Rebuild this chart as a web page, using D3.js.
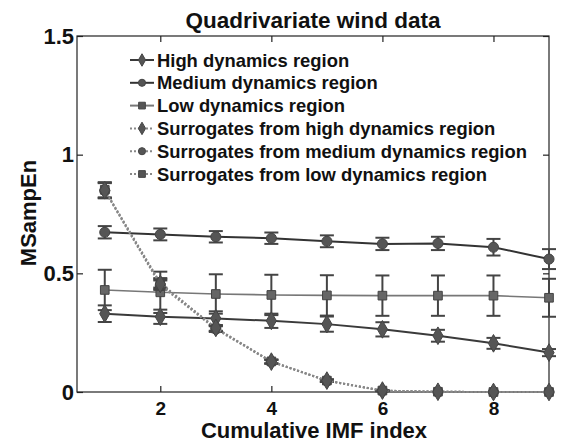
<!DOCTYPE html>
<html>
<head>
<meta charset="UTF-8">
<script src="https://d3js.org/d3.v7.min.js"></script>
<style>
  body { margin: 0; background: #fff; font-family: "Liberation Sans", Arial, sans-serif; }
  text { font-weight: bold; fill: #111; }
</style>
</head>
<body>
<div id="chart"></div>
<script>
// ---- data ----
const imf = [1, 2, 3, 4, 5, 6, 7, 8, 9];

const highMean = [0.33, 0.317, 0.31, 0.30, 0.286, 0.264, 0.237, 0.205, 0.166];
const highErr  = [0.035, 0.03, 0.03, 0.03, 0.032, 0.03, 0.025, 0.023, 0.015];

const medMean = [0.673, 0.664, 0.654, 0.648, 0.635, 0.624, 0.626, 0.61, 0.56];
const medErr  = [0.026, 0.025, 0.024, 0.024, 0.025, 0.026, 0.028, 0.035, 0.042];

const lowMean = [0.43, 0.42, 0.413, 0.409, 0.407, 0.406, 0.406, 0.406, 0.397];
const lowErr  = [0.085, 0.087, 0.083, 0.085, 0.085, 0.085, 0.085, 0.085, 0.08];

const surHighMean = [0.85, 0.455, 0.27, 0.128, 0.048, 0.006, 0.001, 0, 0];
const surMedMean  = [0.848, 0.45, 0.265, 0.127, 0.047, 0.005, 0.001, 0, 0];
const surLowMean  = [0.852, 0.46, 0.268, 0.129, 0.048, 0.006, 0.001, 0, 0];
const surErr      = [0.032, 0.02, 0.012, 0.008, 0.005, 0.002, 0, 0, 0];

const yTicks = [0, 0.5, 1, 1.5];
const xTicks = [2, 4, 6, 8];

const legendNames = [
  "High dynamics region",
  "Medium dynamics region",
  "Low dynamics region",
  "Surrogates from high dynamics region",
  "Surrogates from medium dynamics region",
  "Surrogates from low dynamics region"
];

const series = [
  {mean: highMean, err: highErr, shape: "diamond", line: "#3a3a3a", dash: null},
  {mean: medMean, err: medErr, shape: "circle", line: "#333", dash: null},
  {mean: lowMean, err: lowErr, shape: "square", line: "#777", dash: null},
  {mean: surHighMean, err: surErr, shape: "diamond", line: "#888", dash: "2,2"},
  {mean: surMedMean, err: surErr, shape: "circle", line: "#888", dash: "2,2"},
  {mean: surLowMean, err: surErr, shape: "square", line: "#888", dash: "2,2"}
];

// ---- layout ----
const W = 571, H = 443;
const margin = {top: 36, right: 22, bottom: 51, left: 77};
const width = W - margin.left - margin.right,
      height = H - margin.top - margin.bottom;

const svg = d3.select("#chart").append("svg")
  .attr("width", W).attr("height", H);

const g = svg.append("g")
  .attr("transform", `translate(${margin.left},${margin.top})`);

const x = d3.scaleLinear().domain([0.5, 9]).range([0, width]);
const y = d3.scaleLinear().domain([0, 1.5]).range([height, 0]);

// frame
g.append("rect").attr("width", width).attr("height", height)
  .attr("fill", "none").attr("stroke", "#222").attr("stroke-width", 1.2);

// axes (ticks inward, MATLAB style)
const xAxis = g.append("g").attr("transform", `translate(0,${height})`)
  .call(d3.axisBottom(x).tickValues(xTicks).tickSize(-6).tickPadding(10).tickFormat(d3.format("d")));
const xTop = g.append("g")
  .call(d3.axisTop(x).tickValues(xTicks).tickSize(-6).tickFormat(""));
const yAxis = g.append("g")
  .call(d3.axisLeft(y).tickValues(yTicks).tickSize(-6).tickPadding(3).tickFormat(d => d === 0 ? "0" : String(d)));
const yRight = g.append("g").attr("transform", `translate(${width},0)`)
  .call(d3.axisRight(y).tickValues(yTicks).tickSize(-6).tickFormat(""));

[xAxis, xTop, yAxis, yRight].forEach(a => {
  a.select(".domain").remove();
  a.selectAll(".tick line").attr("stroke", "#222").attr("stroke-width", 1.2);
});
xAxis.selectAll("text").attr("font-size", 19).attr("font-family", "Liberation Sans, Arial").attr("fill", "#111");
yAxis.selectAll("text").attr("font-size", 22).attr("font-family", "Liberation Sans, Arial").attr("fill", "#111");

// symbol helper
function sym(shape) {
  if (shape === "circle") return d3.symbol().type(d3.symbolCircle).size(80);
  if (shape === "square") return d3.symbol().type(d3.symbolSquare).size(75);
  return d3.symbol().type(d3.symbolDiamond).size(90);
}

const capW = 7;
const drawOrder = [2, 0, 1, 5, 4, 3];

drawOrder.forEach(i => {
  const s = series[i];
  const pts = imf.map((d, k) => ({x: d, m: s.mean[k], e: s.err[k]}));
  const sg = g.append("g");

  // error bars
  const eb = sg.selectAll(".eb").data(pts.filter(p => p.e > 0)).enter().append("g")
    .attr("stroke", "#444").attr("stroke-width", 2);
  eb.append("line")
    .attr("x1", p => x(p.x)).attr("x2", p => x(p.x))
    .attr("y1", p => y(p.m + p.e)).attr("y2", p => y(p.m - p.e));
  eb.append("line")
    .attr("x1", p => x(p.x) - capW).attr("x2", p => x(p.x) + capW)
    .attr("y1", p => y(p.m + p.e)).attr("y2", p => y(p.m + p.e));
  eb.append("line")
    .attr("x1", p => x(p.x) - capW).attr("x2", p => x(p.x) + capW)
    .attr("y1", p => y(p.m - p.e)).attr("y2", p => y(p.m - p.e));

  // line
  sg.append("path").datum(pts)
    .attr("fill", "none").attr("stroke", s.line)
    .attr("stroke-width", i === 2 ? 1.6 : 2)
    .attr("stroke-dasharray", s.dash)
    .attr("d", d3.line().x(p => x(p.x)).y(p => y(p.m)));

  // markers
  sg.selectAll(".mk").data(pts).enter().append("path")
    .attr("transform", p => `translate(${x(p.x)},${y(p.m)})`)
    .attr("d", sym(s.shape)())
    .attr("fill", i === 2 || i === 5 ? "#666" : "#555")
    .attr("stroke", "#444").attr("stroke-width", 1);
});

// legend
const leg = svg.append("g").attr("transform", "translate(130,60)");
legendNames.forEach((name, i) => {
  const s = series[i];
  const row = leg.append("g").attr("transform", `translate(0,${i * 22.8})`);
  row.append("line").attr("x1", 0).attr("x2", 24).attr("y1", 0).attr("y2", 0)
    .attr("stroke", s.dash ? "#888" : s.line).attr("stroke-width", 2)
    .attr("stroke-dasharray", s.dash);
  row.append("path").attr("transform", "translate(12,0)")
    .attr("d", sym(s.shape).size(s.shape === "circle" ? 40 : 45)())
    .attr("fill", "#555").attr("stroke", "#444");
  row.append("text").attr("x", 27).attr("y", 6.5)
    .attr("font-size", 18.4).text(name);
});

// title and labels
svg.append("text").attr("x", 313).attr("y", 28).attr("text-anchor", "middle")
  .attr("font-size", 22.5).text("Quadrivariate wind data");
svg.append("text").attr("x", 314).attr("y", 438).attr("text-anchor", "middle")
  .attr("font-size", 22).text("Cumulative IMF index");
svg.append("text").attr("transform", "translate(36,213) rotate(-90)")
  .attr("text-anchor", "middle").attr("font-size", 22).text("MSampEn");
</script>
</body>
</html>
